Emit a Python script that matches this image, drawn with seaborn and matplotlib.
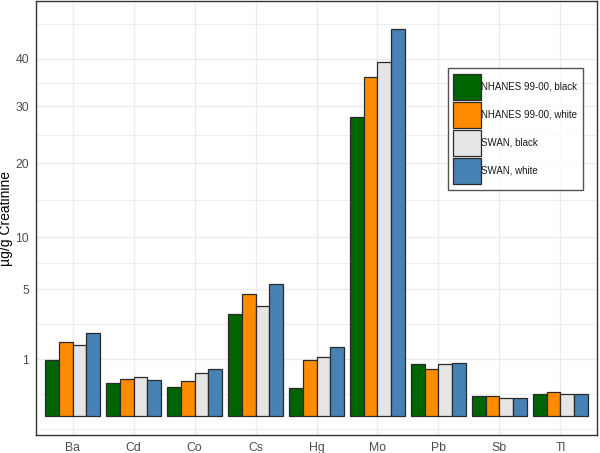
import numpy as np
import pandas as pd
import matplotlib
matplotlib.use("Agg")
import matplotlib.pyplot as plt
from matplotlib.patches import Patch
import seaborn as sns

elements = ["Ba", "Cd", "Co", "Cs", "Hg", "Mo", "Pb", "Sb", "Tl"]
groups = ["NHANES 99-00, black", "NHANES 99-00, white", "SWAN, black", "SWAN, white"]
nhanes_black = [0.97, 0.33, 0.26, 3.24, 0.24, 28.0, 0.82, 0.12, 0.145]
nhanes_white = [1.72, 0.42, 0.38, 4.62, 0.97, 36.0, 0.69, 0.12, 0.177]
swan_black = [1.56, 0.47, 0.58, 3.77, 1.09, 39.2, 0.82, 0.10, 0.139]
swan_white = [2.16, 0.40, 0.69, 5.43, 1.47, 47.0, 0.87, 0.096, 0.145]
colors = ["#006400", "#FF8C00", "#E5E5E5", "#4682B4"]
y_breaks = [1, 5, 10, 20, 30, 40]

series = [nhanes_black, nhanes_white, swan_black, swan_white]
df = pd.DataFrame({
    "element": np.repeat([elements], 4, axis=0).ravel(),
    "group": np.repeat(groups, len(elements)),
    "value": np.concatenate(series),
})

sns.set_style("white")
plt.rcParams["font.family"] = ["Liberation Sans", "DejaVu Sans"]

fig = plt.figure(figsize=(6.0, 4.53), dpi=100)
ax = fig.add_axes([36 / 600, 1 - 435 / 453, 561 / 600, 434 / 453])

sns.barplot(data=df, x="element", y="value", hue="group", order=elements,
            hue_order=groups, palette=colors, width=0.9, edgecolor="#2a2a2a",
            linewidth=0.9, ax=ax, legend=False, zorder=3, saturation=1)

def fwd(v):
    v = np.asarray(v, dtype=float)
    return np.sign(v) * np.sqrt(np.abs(v))

def inv(v):
    v = np.asarray(v, dtype=float)
    return np.sign(v) * v ** 2

ax.set_yscale("function", functions=(fwd, inv))
lo, hi = -0.345, 7.345
ax.set_ylim(inv(lo), inv(hi))
ax.set_xlim(-0.6, len(elements) - 0.4)

ax.set_yticks(y_breaks)
ax.set_yticklabels([str(b) for b in y_breaks])
sb = np.sqrt(np.array(y_breaks, dtype=float))
bd = sb[1] - sb[0]
ext = np.concatenate([[sb[0] - bd], sb, [sb[-1] + bd]])
mids = (ext[:-1] + ext[1:]) / 2
minor_s = np.concatenate([[ext[0]], mids])
minor_s = minor_s[(minor_s > lo) & (minor_s < hi)]
ax.set_yticks(inv(minor_s), minor=True)

ax.grid(True, which="major", color="#EBEBEB", linewidth=1.0, zorder=0)
ax.grid(True, which="minor", axis="y", color="#EBEBEB", linewidth=0.6, zorder=0)
ax.set_axisbelow(True)

ax.tick_params(axis="both", which="major", length=3, width=0.8, color="#333333",
               labelsize=8.8, labelcolor="#4D4D4D", pad=2)
ax.tick_params(axis="both", which="minor", length=0)
ax.set_xlabel("")
ax.set_ylabel("µg/g Creatinine", fontsize=10, color="black")
ax.yaxis.set_label_coords(-0.041, 0.5)

for s in ax.spines.values():
    s.set_visible(True)
    s.set_color("#333333")
    s.set_linewidth(1.0)

handles = [Patch(facecolor=c, edgecolor="#2a2a2a", linewidth=0.9, label=g)
           for c, g in zip(colors, groups)]
leg = ax.legend(handles=handles, loc="upper left", bbox_to_anchor=(0.734, 0.845),
                borderaxespad=0, frameon=True, fancybox=False, fontsize=7,
                handlelength=2.85, handleheight=3.8, labelspacing=0.17,
                handletextpad=0.05, borderpad=0.55)
leg.get_frame().set_edgecolor("#2a2a2a")
leg.get_frame().set_linewidth(1.0)
for t in leg.get_texts():
    t.set_color("#1a1a1a")

fig.savefig("out.png", dpi=100)
